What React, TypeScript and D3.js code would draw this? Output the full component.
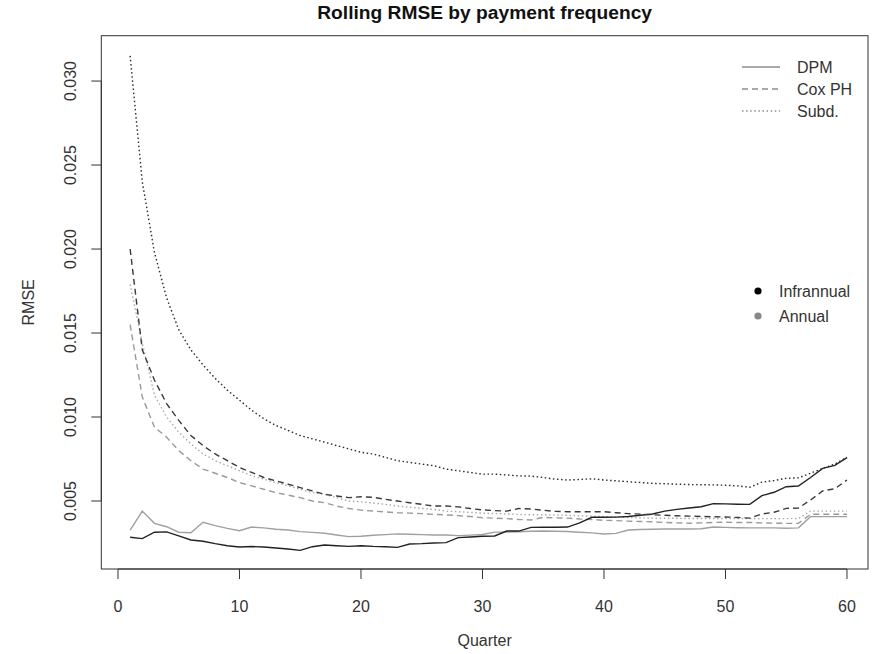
import React from "react";
import * as d3 from "d3";

// Quarters 1..60
const quarters: number[] = d3.range(1, 61);

// Infrannual payment frequency
const dpmInfra: number[] = [
  0.00284, 0.00276, 0.00314, 0.00316, 0.00292, 0.00268, 0.0026, 0.00246, 0.00234, 0.00226,
  0.00229, 0.00226, 0.0022, 0.00214, 0.00206, 0.00228, 0.00238, 0.00234, 0.0023, 0.00234,
  0.0023, 0.00228, 0.00224, 0.00244, 0.00246, 0.0025, 0.00252, 0.00282, 0.00286, 0.0029,
  0.00292, 0.00321, 0.00321, 0.00343, 0.00344, 0.00344, 0.00345, 0.0037, 0.00403, 0.00403,
  0.00404, 0.00408, 0.00415, 0.00423, 0.0044, 0.0045, 0.00458, 0.00466, 0.00484, 0.00483,
  0.00481, 0.0048, 0.00532, 0.00552, 0.00585, 0.00589, 0.0064, 0.00694, 0.00712, 0.00758,
];
const coxInfra: number[] = [
  0.02, 0.014, 0.0122, 0.0108, 0.0098, 0.0089, 0.0083, 0.0078, 0.0074, 0.007,
  0.0067, 0.0064, 0.0062, 0.006, 0.0058, 0.0056, 0.0054, 0.0053, 0.0052, 0.00525,
  0.00522, 0.0051, 0.005, 0.0049, 0.0048, 0.0047, 0.0047, 0.00465, 0.00455, 0.00447,
  0.00443, 0.0044, 0.00455, 0.00452, 0.00445, 0.00438, 0.00436, 0.00436, 0.00436, 0.00436,
  0.0043, 0.00425, 0.00422, 0.00418, 0.00415, 0.00412, 0.0041, 0.00408, 0.00406, 0.00405,
  0.00402, 0.00398, 0.00423, 0.00433, 0.00456, 0.00458, 0.00506, 0.0056, 0.00573, 0.00625,
];
const subdInfra: number[] = [
  0.0315, 0.024, 0.0198, 0.0171, 0.0152, 0.014, 0.0131, 0.0123, 0.0116, 0.011,
  0.0104, 0.0099, 0.0095, 0.0092, 0.0089, 0.0087, 0.0085, 0.0083, 0.0081, 0.0079,
  0.0078, 0.0076, 0.0074, 0.0073, 0.0072, 0.0071, 0.0069, 0.0068, 0.0067, 0.0066,
  0.0066, 0.00655, 0.0065, 0.00648, 0.0064, 0.0063, 0.00625, 0.00628, 0.00632, 0.00625,
  0.0062, 0.00615, 0.0061, 0.00605, 0.00603, 0.006, 0.00598, 0.00597, 0.00596, 0.00594,
  0.0059, 0.00582, 0.00612, 0.00622, 0.00635, 0.00638, 0.00665, 0.00694, 0.0072, 0.0076,
];

// Annual payment frequency
const dpmAnnual: number[] = [
  0.00327, 0.0044, 0.00367, 0.00347, 0.00314, 0.00311, 0.00373, 0.00353, 0.00337, 0.00323,
  0.00345, 0.0034, 0.00332, 0.00327, 0.00318, 0.00313, 0.00308, 0.00298, 0.00288, 0.0029,
  0.00296, 0.003, 0.00304, 0.00302, 0.003, 0.00298, 0.00298, 0.00294, 0.00297, 0.00301,
  0.00315, 0.00315, 0.00317, 0.0032, 0.00321, 0.0032, 0.00318, 0.00314, 0.0031, 0.00304,
  0.00307, 0.00327, 0.0033, 0.00332, 0.00333, 0.00333, 0.00333, 0.00335, 0.00345, 0.00343,
  0.00341, 0.0034, 0.0034, 0.0034, 0.00338, 0.0034, 0.00407, 0.00407, 0.00407, 0.00407,
];
const coxAnnual: number[] = [
  0.0155, 0.0112, 0.0094, 0.0088, 0.008, 0.0074, 0.0069, 0.00665, 0.0064, 0.0061,
  0.0059, 0.0057, 0.0055, 0.00535, 0.0052, 0.005, 0.0049, 0.0047, 0.00455, 0.00446,
  0.0044, 0.00435, 0.0043, 0.00428, 0.00425, 0.0042, 0.00417, 0.00413, 0.00408, 0.004,
  0.00398, 0.00395, 0.0039, 0.00387, 0.00403, 0.004, 0.00398, 0.00393, 0.0039, 0.00385,
  0.00383, 0.0038, 0.00378, 0.00376, 0.00372, 0.0037, 0.00368, 0.0037, 0.00372, 0.00374,
  0.00372, 0.00372, 0.0037, 0.00368, 0.00367, 0.00367, 0.00421, 0.00421, 0.00421, 0.00421,
];
const subdAnnual: number[] = [
  0.0179, 0.0144, 0.0113, 0.01, 0.0091, 0.0084, 0.0078, 0.0074, 0.0071, 0.0068,
  0.0065, 0.0063, 0.0061, 0.0059, 0.0057, 0.0055, 0.0054, 0.0052, 0.005, 0.00495,
  0.00488, 0.0048, 0.0047, 0.00463, 0.00456, 0.0045, 0.0044, 0.00436, 0.00432, 0.00428,
  0.00425, 0.00423, 0.0042, 0.00418, 0.00418, 0.00417, 0.00415, 0.00412, 0.0041, 0.00407,
  0.00405, 0.00402, 0.004, 0.00398, 0.00397, 0.00397, 0.00396, 0.00396, 0.00396, 0.00396,
  0.00396, 0.00395, 0.00395, 0.00395, 0.00395, 0.00395, 0.0044, 0.0044, 0.0044, 0.0044,
];

const xTicks: number[] = [0, 10, 20, 30, 40, 50, 60];
const yTicks: number[] = [0.005, 0.01, 0.015, 0.02, 0.025, 0.03];

const modelNames: string[] = ["DPM", "Cox PH", "Subd."];
const frequencyNames: string[] = ["Infrannual", "Annual"];

const WIDTH = 878;
const HEIGHT = 654;
const LEFT = 101.3;
const RIGHT = 868;
const TOP = 35.7;
const BOTTOM = 569;
const FONT = "'Liberation Sans', Arial, Helvetica, sans-serif";

const DASH: Record<string, string | undefined> = {
  solid: undefined,
  dashed: "6,4",
  dotted: "1.5,2.6",
};

type Series = { values: number[]; style: string; color: string };

const series: Series[] = [
  { values: dpmAnnual, style: "solid", color: "#a0a0a0" },
  { values: coxAnnual, style: "dashed", color: "#9a9a9a" },
  { values: subdAnnual, style: "dotted", color: "#a8a8a8" },
  { values: dpmInfra, style: "solid", color: "#222222" },
  { values: coxInfra, style: "dashed", color: "#3a3a3a" },
  { values: subdInfra, style: "dotted", color: "#2a2a2a" },
];

export default function App() {
  const x = d3.scaleLinear().domain([-1.373, 61.73]).range([LEFT, RIGHT]);
  const y = d3.scaleLinear().domain([0.000952, 0.0327]).range([BOTTOM, TOP]);

  const line = (vals: number[]) =>
    d3
      .line<number>()
      .x((_, i) => x(quarters[i]))
      .y((v) => y(v))(vals) ?? "";

  const legendStyles = ["solid", "dashed", "dotted"];

  return (
    <svg
      width={WIDTH}
      height={HEIGHT}
      style={{ position: "absolute", left: 0, top: 0, background: "#fff" }}
      fontFamily={FONT}
    >
      <rect x={0} y={0} width={WIDTH} height={HEIGHT} fill="#fff" />

      {/* series */}
      <g fill="none">
        {series.map((s, i) => (
          <path
            key={i}
            d={line(s.values)}
            stroke={s.color}
            strokeWidth={1.4}
            strokeDasharray={DASH[s.style]}
          />
        ))}
      </g>

      {/* plot frame */}
      <rect
        x={LEFT}
        y={TOP}
        width={RIGHT - LEFT}
        height={BOTTOM - TOP}
        fill="none"
        stroke="#333"
        strokeWidth={1}
      />

      {/* x axis */}
      <g stroke="#333" strokeWidth={1}>
        <line x1={x(xTicks[0])} x2={x(xTicks[xTicks.length - 1])} y1={BOTTOM} y2={BOTTOM} />
        {xTicks.map((t) => (
          <line key={t} x1={x(t)} x2={x(t)} y1={BOTTOM} y2={BOTTOM + 10} />
        ))}
      </g>
      <g fontSize={16} fill="#333" textAnchor="middle">
        {xTicks.map((t) => (
          <text key={t} x={x(t)} y={612}>
            {t}
          </text>
        ))}
      </g>

      {/* y axis */}
      <g stroke="#333" strokeWidth={1}>
        <line x1={LEFT} x2={LEFT} y1={y(yTicks[0])} y2={y(yTicks[yTicks.length - 1])} />
        {yTicks.map((t) => (
          <line key={t} x1={LEFT - 10} x2={LEFT} y1={y(t)} y2={y(t)} />
        ))}
      </g>
      <g fontSize={16} fill="#333" textAnchor="middle">
        {yTicks.map((t) => (
          <text key={t} transform={`translate(76,${y(t)}) rotate(-90)`}>
            {d3.format(".3f")(t)}
          </text>
        ))}
      </g>

      {/* titles */}
      <text
        x={(LEFT + RIGHT) / 2}
        y={19}
        textAnchor="middle"
        fontSize={19.2}
        fontWeight="bold"
        fill="#111"
      >
        Rolling RMSE by payment frequency
      </text>
      <text x={(LEFT + RIGHT) / 2} y={646} textAnchor="middle" fontSize={16} fill="#333">
        Quarter
      </text>
      <text
        transform={`translate(34,${(TOP + BOTTOM) / 2}) rotate(-90)`}
        textAnchor="middle"
        fontSize={16}
        fill="#333"
      >
        RMSE
      </text>

      {/* model legend */}
      <g>
        {modelNames.map((name, i) => {
          const ly = 67 + i * 22;
          return (
            <g key={name}>
              <line
                x1={742}
                x2={780}
                y1={ly}
                y2={ly}
                stroke="#555"
                strokeWidth={1.2}
                strokeDasharray={DASH[legendStyles[i]]}
              />
              <text x={797} y={ly + 5.5} fontSize={16} fill="#333">
                {name}
              </text>
            </g>
          );
        })}
      </g>

      {/* frequency legend */}
      <g>
        {frequencyNames.map((name, i) => {
          const ly = 291 + i * 25;
          return (
            <g key={name}>
              <circle cx={758} cy={ly} r={3.6} fill={i === 0 ? "#000" : "#888"} />
              <text x={779} y={ly + 5.5} fontSize={16} fill="#333">
                {name}
              </text>
            </g>
          );
        })}
      </g>
    </svg>
  );
}
